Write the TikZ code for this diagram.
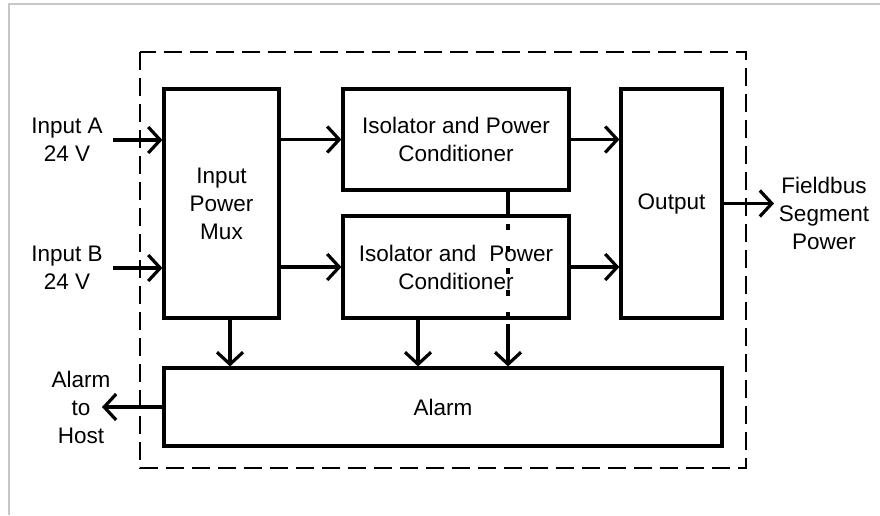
\documentclass[tikz,border=0pt]{standalone}
\usepackage{fontspec}
\setmainfont{Liberation Sans}
\usetikzlibrary{arrows.meta}
\begin{document}
\begin{tikzpicture}[x=1pt,y=-1pt,
  every node/.style={font=\fontsize{22.5}{28}\selectfont, align=center, inner sep=0pt},
  blk/.style={draw, line width=3.2pt, rectangle},
  arr/.style={line width=3.2pt, -{Straight Barb[length=12pt,width=26pt]}},
  conn/.style={line width=3.2pt}
]
\useasboundingbox (0,0) rectangle (880,515);
\fill[white] (0,0) rectangle (880,515);
\draw[black!22, line width=2pt] (9,515) -- (9,4) -- (880,4);

% enclosure
\draw[line width=2.5pt, dash pattern=on 18pt off 8pt] (140,52) rectangle (746,468);

% blocks
\node[blk, minimum width=115pt, minimum height=229pt] (mux) at (221.5,203.5) {Input\\Power\\Mux};
\node[blk, minimum width=226pt, minimum height=101pt] (iso1) at (456,139.5) {Isolator and Power\\Conditioner};
\node[blk, minimum width=226pt, minimum height=102pt] (iso2) at (456,267) {Isolator and\hspace{13pt}Power\\Conditioner};
\node[blk, minimum width=101pt, minimum height=229pt] (out) at (671.5,203.5) {Output};
\node[blk, minimum width=558pt, minimum height=78pt] (alarm) at (443,407) {Alarm};

% outside labels
\node (lA) at (67,139.5) {Input A\\24 V};
\node (lB) at (67,267.5) {Input B\\24 V};
\node (lH) at (81,407.5) {Alarm\\to\\Host};
\node (lF) at (824,213) {Fieldbus\\Segment\\Power};

% free ends
\coordinate (inA) at (113,140);
\coordinate (inB) at (113,268);
\coordinate (fb) at (774,203.5);
\coordinate (host) at (102,407);

% connectors
\draw[arr] (inA) -- (inA -| mux.west);
\draw[arr] (inB) -- (inB -| mux.west);
\draw[arr] (iso1.west -| mux.east) -- (iso1.west);
\draw[arr] (iso2.west -| mux.east) -- (iso2.west);
\draw[arr] (iso1.east) -- (iso1.east -| out.west);
\draw[arr] (iso2.east) -- (iso2.east -| out.west);
\draw[arr] (out.east) -- (fb);
\draw[arr] (alarm.west) -- (host);
\draw[arr] ([xshift=8.5pt]mux.south) -- ([xshift=8.5pt]mux.south |- alarm.north);
\draw[arr] ([xshift=-38pt]iso2.south) -- ([xshift=-38pt]iso2.south |- alarm.north);
% line from upper isolator through lower isolator to alarm
\draw[conn] ([xshift=52pt]iso1.south) -- ([xshift=52pt]iso2.north);
\draw[conn, dash pattern=on 6pt off 16pt] ([xshift=52pt,yshift=12pt]iso2.north) -- ([xshift=52pt,yshift=-14pt]iso2.south);
\draw[arr] ([xshift=52pt,yshift=-4pt]iso2.south) -- ([xshift=52pt]iso2.south |- alarm.north);
\end{tikzpicture}
\end{document}
